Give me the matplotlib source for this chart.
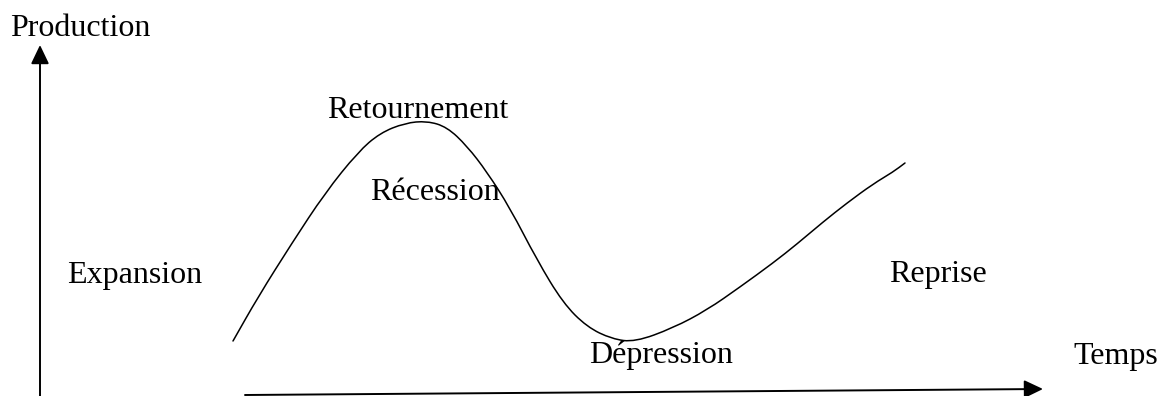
import matplotlib
matplotlib.use('Agg')
import matplotlib.pyplot as plt
from matplotlib.path import Path
from matplotlib.patches import PathPatch

# cycle curve (time, production)
temps = [233, 258, 292, 325, 358, 380, 405, 427, 447, 467, 487, 510, 537,
         563, 587, 612, 635, 673, 707, 740, 773, 797, 823, 847, 873, 893, 905]
production = [55, 99, 153, 203, 244, 263, 273, 275, 269, 250, 224, 188, 136,
              93, 69, 57, 54, 68, 86, 109, 133, 152, 174, 193, 212, 224, 233]

# phase labels and where they sit
labels = ['Retournement', 'Récession', 'Expansion', 'Reprise', 'Dépression']
label_x = [327, 370, 67, 889, 589]
label_y = [278, 196, 113, 114, 33]

plt.rcParams['font.family'] = ['Liberation Serif', 'DejaVu Serif']

fig = plt.figure(figsize=(11.6, 3.96), dpi=100)
ax = fig.add_axes([0, 0, 1, 1])
ax.set_xlim(0, 1160)
ax.set_ylim(0, 396)
ax.axis('off')

# axes drawn as arrows
arrow = dict(arrowstyle='-|>,head_length=1.15,head_width=0.55', color='black',
             lw=1.4, shrinkA=0, shrinkB=0)
ax.annotate('', xy=(40, 351), xytext=(40, -2), arrowprops=arrow)
ax.annotate('', xy=(1043, 7), xytext=(245, 1), arrowprops=arrow)

# smooth curve: data points used as quadratic bezier controls
pts = list(zip(temps, production))
mid = lambda a, b: ((a[0] + b[0]) / 2, (a[1] + b[1]) / 2)
verts = [pts[0], mid(pts[0], pts[1])]
codes = [Path.MOVETO, Path.LINETO]
for i in range(1, len(pts) - 1):
    verts += [pts[i], mid(pts[i], pts[i + 1])]
    codes += [Path.CURVE3, Path.CURVE3]
verts.append(pts[-1])
codes.append(Path.LINETO)
ax.add_patch(PathPatch(Path(verts, codes), facecolor='none',
                       edgecolor='black', lw=1.1, capstyle='round'))

ax.text(10, 360, 'Production', fontsize=23, va='baseline')
ax.text(1073, 32, 'Temps', fontsize=23, va='baseline')
for lab, x, y in zip(labels, label_x, label_y):
    ax.text(x, y, lab, fontsize=23, va='baseline')

fig.savefig('out.png', dpi=100)
